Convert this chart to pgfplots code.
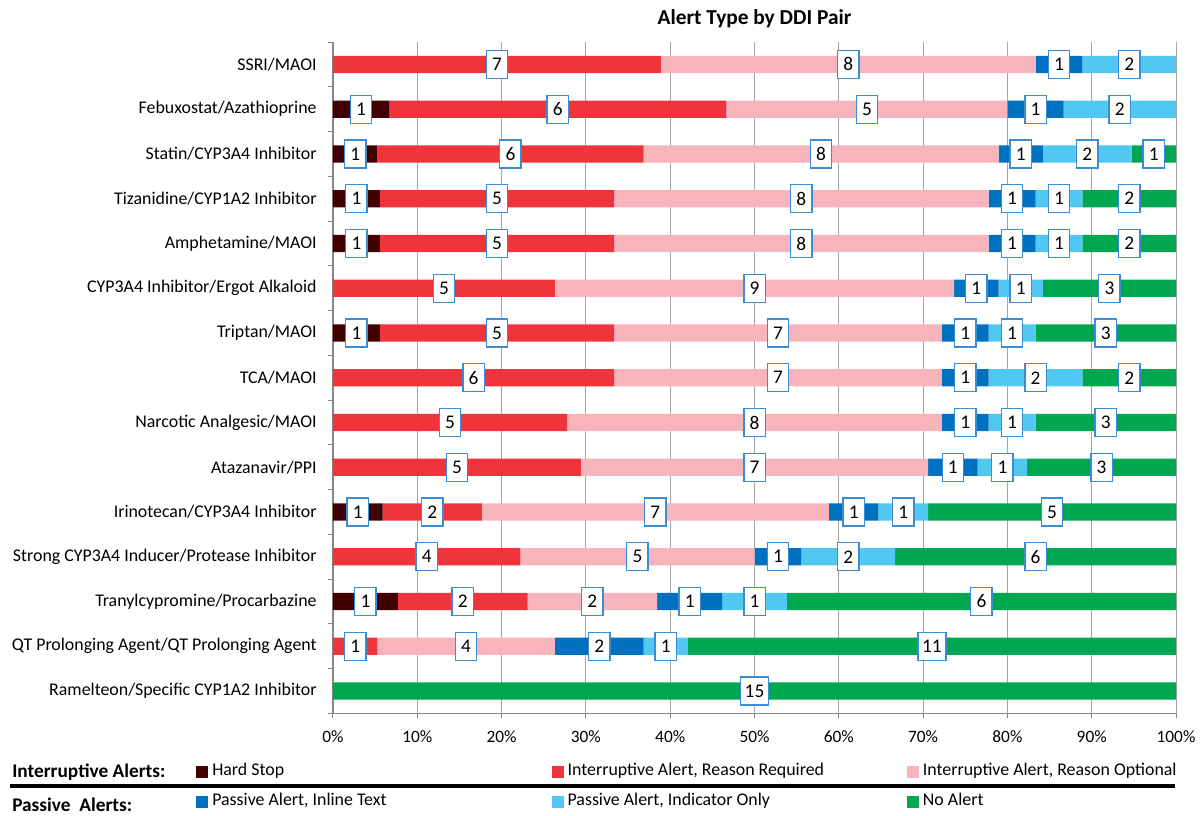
\documentclass[border=0pt]{standalone}
\usepackage{pgfplots}
\usepackage{pgfplotstable}
\pgfplotsset{compat=1.18}
\usepackage{fontspec}
\setmainfont{Carlito}
\definecolor{hardstop}{RGB}{64,0,0}
\definecolor{reqred}{RGB}{239,52,60}
\definecolor{optpink}{RGB}{248,180,188}
\definecolor{inlineblue}{RGB}{0,112,192}
\definecolor{indblue}{RGB}{80,200,242}
\definecolor{noalert}{RGB}{0,166,80}
\definecolor{labelblue}{RGB}{58,140,212}
\definecolor{axisgray}{RGB}{134,134,134}
\definecolor{gridgray}{RGB}{166,166,166}
\pgfplotstableread{
idx hs rr ro pi po na tot
0 0 7 8 1 2 0 18
1 1 6 5 1 2 0 15
2 1 6 8 1 2 1 19
3 1 5 8 1 1 2 18
4 1 5 8 1 1 2 18
5 0 5 9 1 1 3 19
6 1 5 7 1 1 3 18
7 0 6 7 1 2 2 18
8 0 5 8 1 1 3 18
9 0 5 7 1 1 3 17
10 1 2 7 1 1 5 17
11 0 4 5 1 2 6 18
12 1 2 2 1 1 6 13
13 0 1 4 2 1 11 19
14 0 0 0 0 0 15 15
}\data
\pgfplotsset{
  lbl/.style={draw=none, mark=none, nodes near coords={\pgfmathprintnumber[assume math mode=true]{\pgfplotspointmeta}},
    nodes near coords align={center},
    every node near coord/.append style={anchor=center, fill=white, draw=labelblue, line width=1pt, inner xsep=3.2pt, inner ysep=0pt,
      minimum width=16pt, minimum height=21pt, text=black, font=\fontsize{14.5}{14.5}\selectfont}},
}
\begin{document}
\begin{tikzpicture}
\useasboundingbox (0,0) rectangle (902.25pt,611.25pt);
\begin{axis}[
  at={(249.75pt,76.2pt)}, anchor=south west, scale only axis,
  width=632.25pt, height=503.5pt,
  xbar stacked, bar width=13pt,
  xmin=0, xmax=100, ymin=-0.5, ymax=14.5, y dir=reverse,
  axis x line*=bottom, axis y line*=left,
  axis line style={-, draw=axisgray},
  y axis line style={line width=1.3pt},
  xtick={0,10,...,100},
  xticklabels={0\%,10\%,20\%,30\%,40\%,50\%,60\%,70\%,80\%,90\%,100\%},
  xmajorgrids, grid style={gridgray, line width=0.75pt},
  ytick={0,...,14},
  yticklabels={SSRI/MAOI, Febuxostat/Azathioprine, Statin/CYP3A4 Inhibitor, Tizanidine/CYP1A2 Inhibitor,
    Amphetamine/MAOI, CYP3A4 Inhibitor/Ergot Alkaloid, Triptan/MAOI, TCA/MAOI, Narcotic Analgesic/MAOI,
    Atazanavir/PPI, Irinotecan/CYP3A4 Inhibitor, Strong CYP3A4 Inducer/Protease Inhibitor,
    Tranylcypromine/Procarbazine, QT Prolonging Agent/QT Prolonging Agent, Ramelteon/Specific CYP1A2 Inhibitor},
  minor ytick={-0.5,0.5,...,14.5},
  tick align=outside, major tick length=3.75pt, minor tick length=3.75pt,
  tick style={axisgray, line width=0.75pt},
  major y tick style={draw=none},
  yticklabel style={xshift=-5pt, font=\fontsize{13.4}{15}\selectfont, text=black},
  xticklabel style={yshift=-6pt, font=\fontsize{13}{15}\selectfont, text=black},
  title={Alert Type by DDI Pair},
  title style={font=\bfseries\fontsize{16}{18}\selectfont, at={(0.5,1)}, anchor=base, yshift=7.5pt},
  legend image code/.code={\fill[#1] (0pt,-4.5pt) rectangle (9pt,4.5pt);},
  legend columns=3,
  legend cell align=left,
  legend style={at={(-0.1625,-0.0739)}, anchor=north west, draw=none, fill=none, inner sep=0pt,
    font=\fontsize{13.4}{15}\selectfont, row sep=10pt,
    nodes={inner sep=0pt, text height=9.5pt, text depth=3pt},
    /tikz/every odd column/.append style={column sep=3pt}},
]
\addplot[fill=hardstop, draw=none] table[x expr=\thisrow{hs}/\thisrow{tot}*100, y=idx]{\data};
\addlegendentry{\makebox[254.5pt][l]{Hard Stop}}
\addplot[fill=reqred, draw=none] table[x expr=\thisrow{rr}/\thisrow{tot}*100, y=idx]{\data};
\addlegendentry{\makebox[254.5pt][l]{Interruptive Alert, Reason Required}}
\addplot[fill=optpink, draw=none] table[x expr=\thisrow{ro}/\thisrow{tot}*100, y=idx]{\data};
\addlegendentry{\makebox[254.5pt][l]{Interruptive Alert, Reason Optional}}
\addplot[fill=inlineblue, draw=none] table[x expr=\thisrow{pi}/\thisrow{tot}*100, y=idx]{\data};
\addlegendentry{\makebox[254.5pt][l]{Passive Alert, Inline Text}}
\addplot[fill=indblue, draw=none] table[x expr=\thisrow{po}/\thisrow{tot}*100, y=idx]{\data};
\addlegendentry{\makebox[254.5pt][l]{Passive Alert, Indicator Only}}
\addplot[fill=noalert, draw=none] table[x expr=\thisrow{na}/\thisrow{tot}*100, y=idx]{\data};
\addlegendentry{\makebox[254.5pt][l]{No Alert}}
\end{axis}
\begin{axis}[
  at={(249.75pt,76.2pt)}, anchor=south west, scale only axis,
  width=632.25pt, height=503.5pt,
  xmin=0, xmax=100, ymin=-0.5, ymax=14.5, y dir=reverse,
  hide axis, clip=false, unbounded coords=discard,
]
\addplot[lbl, point meta=\thisrow{hs}] table[x expr={\thisrow{hs}>0 ? (0.5*\thisrow{hs})/\thisrow{tot}*100 : nan}, y=idx]{\data};
\addplot[lbl, point meta=\thisrow{rr}] table[x expr={\thisrow{rr}>0 ? (\thisrow{hs}+0.5*\thisrow{rr})/\thisrow{tot}*100 : nan}, y=idx]{\data};
\addplot[lbl, point meta=\thisrow{ro}] table[x expr={\thisrow{ro}>0 ? (\thisrow{hs}+\thisrow{rr}+0.5*\thisrow{ro})/\thisrow{tot}*100 : nan}, y=idx]{\data};
\addplot[lbl, point meta=\thisrow{pi}] table[x expr={\thisrow{pi}>0 ? (\thisrow{hs}+\thisrow{rr}+\thisrow{ro}+0.5*\thisrow{pi})/\thisrow{tot}*100 : nan}, y=idx]{\data};
\addplot[lbl, point meta=\thisrow{po}] table[x expr={\thisrow{po}>0 ? (\thisrow{hs}+\thisrow{rr}+\thisrow{ro}+\thisrow{pi}+0.5*\thisrow{po})/\thisrow{tot}*100 : nan}, y=idx]{\data};
\addplot[lbl, point meta=\thisrow{na}] table[x expr={\thisrow{na}>0 ? (\thisrow{hs}+\thisrow{rr}+\thisrow{ro}+\thisrow{pi}+\thisrow{po}+0.5*\thisrow{na})/\thisrow{tot}*100 : nan}, y=idx]{\data};
\end{axis}
\node[anchor=west, inner sep=0pt, font=\bfseries\fontsize{14.5}{16}\selectfont] at (9pt,32pt) {Interruptive Alerts:};
\node[anchor=west, inner sep=0pt, font=\bfseries\fontsize{14.5}{16}\selectfont] at (9pt,7.5pt) {Passive\ \ Alerts:};
\draw[line width=2.5pt] (7.5pt,21.75pt) -- (881.25pt,21.75pt);
\end{tikzpicture}
\end{document}
